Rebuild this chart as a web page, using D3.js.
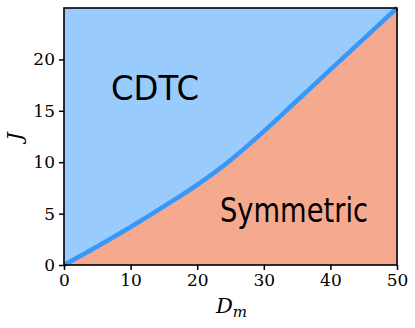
<!DOCTYPE html>
<html>
<head>
<meta charset="utf-8">
<script src="https://cdn.jsdelivr.net/npm/d3@7"></script>
<style>
  html, body { margin: 0; padding: 0; background: #fff; }
  svg { display: block; }
  .serif { font-family: "DejaVu Serif", "Liberation Serif", serif; }
</style>
</head>
<body>
<div id="chart"></div>
<script>
// Phase boundary J(D_m) separating CDTC (above) and Symmetric (below)
const dm = [0, 5, 10, 15, 20, 25, 30, 35, 40, 45, 50];
const jBoundary = [0, 1.8, 3.7, 5.7, 7.8, 10.2, 13.0, 16.0, 19.0, 22.0, 25.0];
const xTicks = [0, 10, 20, 30, 40, 50];
const yTicks = [0, 5, 10, 15, 20];
const regionLabels = ['CDTC', 'Symmetric'];

const width = 415, height = 328;
const margin = { top: 8, right: 18, bottom: 63, left: 64 };

const svg = d3.select('#chart').append('svg')
    .attr('width', width)
    .attr('height', height);

const x = d3.scaleLinear().domain([0, 50]).range([margin.left, width - margin.right]);
const y = d3.scaleLinear().domain([0, 25]).range([height - margin.bottom, margin.top]);

const pts = dm.map((d, i) => ({ d, j: jBoundary[i] }));

// Upper region (CDTC)
svg.append('rect')
    .attr('x', x(0)).attr('y', y(25))
    .attr('width', x(50) - x(0)).attr('height', y(0) - y(25))
    .attr('fill', '#99cbfd');

// Lower region (Symmetric)
const area = d3.area()
    .x(p => x(p.d))
    .y0(y(0))
    .y1(p => y(p.j))
    .curve(d3.curveMonotoneX);
svg.append('path')
    .datum(pts)
    .attr('d', area)
    .attr('fill', '#f5aa90');

// Boundary line
const line = d3.line()
    .x(p => x(p.d))
    .y(p => y(p.j))
    .curve(d3.curveMonotoneX);
svg.append('path')
    .datum(pts)
    .attr('d', line)
    .attr('fill', 'none')
    .attr('stroke', '#3898f8')
    .attr('stroke-width', 4.5);

// Axes
const xAxis = svg.append('g')
    .attr('transform', `translate(0,${y(0)})`)
    .call(d3.axisBottom(x).tickValues(xTicks).tickSize(5).tickPadding(4));
const yAxis = svg.append('g')
    .attr('transform', `translate(${x(0)},0)`)
    .call(d3.axisLeft(y).tickValues(yTicks).tickSize(5).tickPadding(4));

[xAxis, yAxis].forEach(g => {
    g.attr('font-family', null).attr('font-size', null);
    g.select('.domain').remove();
    g.selectAll('.tick line').attr('stroke', '#000').attr('stroke-width', 1.5);
    g.selectAll('.tick text')
        .attr('class', 'serif')
        .attr('fill', '#000')
        .style('font-size', '17px');
});

// Frame
svg.append('rect')
    .attr('x', x(0)).attr('y', y(25))
    .attr('width', x(50) - x(0)).attr('height', y(0) - y(25))
    .attr('fill', 'none')
    .attr('stroke', '#000')
    .attr('stroke-width', 1.6);

// Axis labels
svg.append('text')
    .attr('class', 'serif')
    .attr('x', (x(0) + x(50)) / 2 + 1)
    .attr('y', 313)
    .attr('text-anchor', 'middle')
    .style('font-size', '21px')
    .style('font-style', 'italic')
    .html('D<tspan dy="4" font-size="15">m</tspan>');

svg.append('text')
    .attr('class', 'serif')
    .attr('transform', `translate(22,${(y(0) + y(25)) / 2}) rotate(-90)`)
    .attr('text-anchor', 'middle')
    .style('font-size', '21px')
    .style('font-style', 'italic')
    .text('J');

// Region labels
const labelFont = '"DejaVu Sans", sans-serif';
svg.append('text')
    .attr('x', 111).attr('y', 100)
    .attr('textLength', 88)
    .attr('lengthAdjust', 'spacingAndGlyphs')
    .style('font-family', labelFont)
    .style('font-size', '34px')
    .attr('fill', '#000')
    .text(regionLabels[0]);

svg.append('text')
    .attr('x', 220).attr('y', 222)
    .attr('textLength', 148)
    .attr('lengthAdjust', 'spacingAndGlyphs')
    .style('font-family', labelFont)
    .style('font-size', '34px')
    .attr('fill', '#000')
    .text(regionLabels[1]);
</script>
</body>
</html>
